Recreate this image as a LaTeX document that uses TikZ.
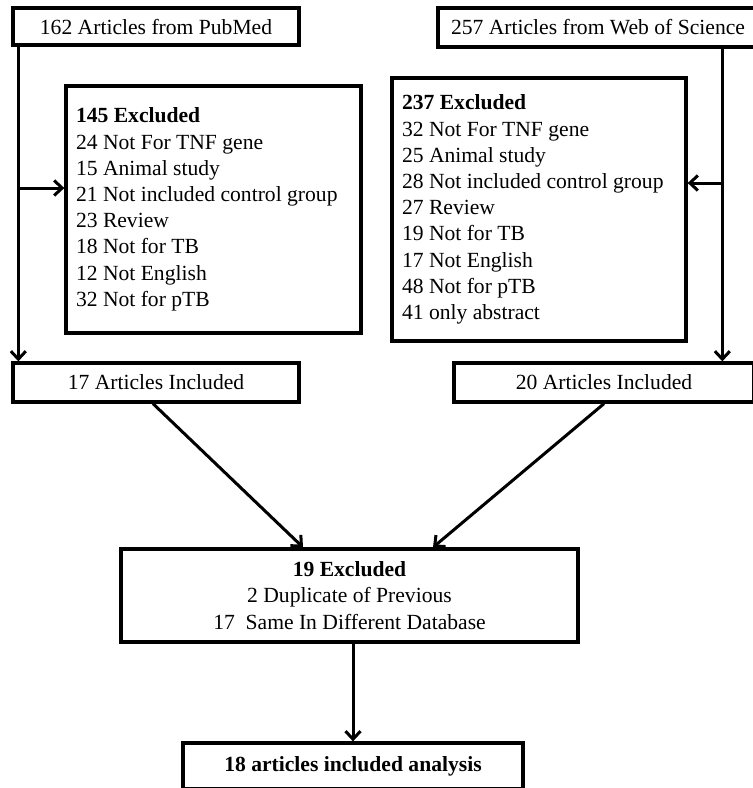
\documentclass[tikz,border=0pt]{standalone}
\usepackage{fontspec}
\setmainfont{Liberation Serif}
\usetikzlibrary{positioning,arrows.meta}
\tikzset{
  box/.style={draw,line width=3.3pt,inner sep=0pt,font=\fontsize{21.6pt}{26.2pt}\selectfont,
    execute at begin node={\spaceskip=0pt\xspaceskip=0pt\relax}},
  listbox/.style={box,align=left,inner xsep=10pt},
  arr/.style={-{Straight Barb[length=8pt,width=15pt]},line width=3pt}
}

\begin{document}
\begin{tikzpicture}[x=1pt,y=-1pt]
                   \useasboundingbox (0,0) rectangle (753,788);
                   \node[box,minimum width=286pt,minimum height=37pt] (pub) at (156,26.5) {162 Articles from PubMed};
                   \node[box,minimum width=320pt,minimum height=39pt] (wos) at (598,27.5) {257 Articles from Web of Science};
                   \node[listbox,text width=275pt,minimum height=247pt] (exc1) at (213.5,209.5) {\textbf{145 Excluded}\\
                         24 Not For TNF gene\\ 15 Animal study\\ 21 Not included control group\\ 23 Review\\
                         18 Not for TB\\ 12 Not English\\ 32 Not for pTB};
                   \node[listbox,text width=274pt,minimum height=263pt] (exc2) at (539,209.5) {\textbf{237 Excluded}\\
                         32 Not For TNF gene\\ 25 Animal study\\ 28 Not included control group\\ 27 Review\\
                         19 Not for TB\\ 17 Not English\\ 48 Not for pTB\\ 41 only abstract};
                   \node[box,minimum width=286pt,minimum height=39pt] (inc1) at (156,382.5) {17 Articles Included};
                   \node[box,minimum width=300pt,minimum height=39pt] (inc2) at (604,382.5) {20 Articles Included};
                   \node[box,align=center,minimum width=457pt,minimum height=93pt] (exc3) at (349.5,595.5) {\textbf{19 Excluded}\\
                         2 Duplicate of Previous\\ 17\ \ Same In Different Database};
                   \node[box,minimum width=340pt,minimum height=46pt] (fin) at (353,766) {\textbf{18 articles included analysis}};
                   % side lines
                   \coordinate (lt) at ([xshift=7pt]pub.south west);
                   \coordinate (la) at ([yshift=21.5pt]exc1.west);
                   \coordinate (rt) at ([xshift=286pt]wos.south west);
                   \coordinate (ra) at ([yshift=26.5pt]exc2.east);
                   \draw[arr] (lt) -- (lt |- inc1.north);
                   \draw[arr] (lt |- la) -- (la);
                   \draw[arr] (rt) -- (rt |- inc2.north);
                   \draw[arr] (rt |- ra) -- (ra);
                   % merge
                   \draw[arr] ([xshift=-3pt]inc1.south) -- ([xshift=-46.5pt]exc3.north);
                   \draw[arr] (inc2.south) -- ([xshift=83.5pt]exc3.north);
                   \draw[arr] (exc3.south -| fin.north) -- (fin.north);
                \end{tikzpicture}
\end{document}
